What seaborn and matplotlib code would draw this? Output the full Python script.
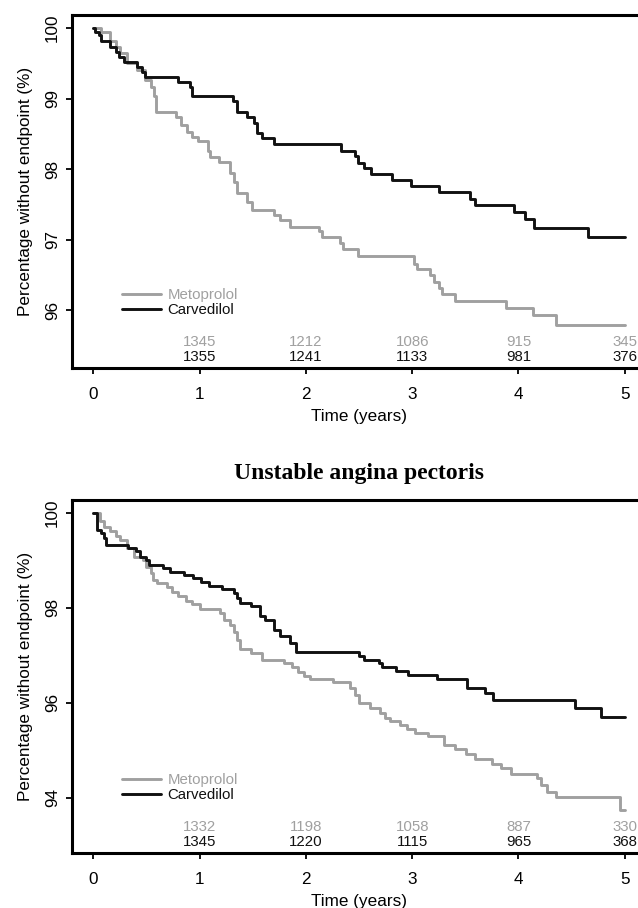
import matplotlib
matplotlib.use("Agg")
import matplotlib.pyplot as plt
import matplotlib.transforms as mtransforms
import seaborn as sns

GRAY = "#a0a0a0"
BLACK = "#111111"

# upper panel (its title is cropped off in the source)
top_meto_t = [0, 0.07, 0.16, 0.21, 0.25, 0.32, 0.41, 0.49, 0.54, 0.57, 0.59, 0.78, 0.83, 0.88, 0.93,
              0.99, 1.08, 1.10, 1.18, 1.29, 1.32, 1.35, 1.45, 1.49, 1.70, 1.76, 1.85, 2.12, 2.15, 2.32,
              2.35, 2.49, 3.02, 3.05, 3.17, 3.21, 3.25, 3.28, 3.40, 3.88, 4.14, 4.35, 5.0]
top_meto_s = [100, 99.95, 99.81, 99.73, 99.64, 99.50, 99.40, 99.26, 99.17, 99.03, 98.81, 98.74, 98.62,
              98.53, 98.46, 98.40, 98.25, 98.17, 98.10, 97.95, 97.82, 97.66, 97.54, 97.42, 97.35, 97.28,
              97.18, 97.12, 97.03, 96.95, 96.86, 96.77, 96.66, 96.59, 96.50, 96.40, 96.32, 96.23, 96.13,
              96.03, 95.93, 95.79, 95.79]
top_carv_t = [0, 0.02, 0.05, 0.07, 0.16, 0.21, 0.24, 0.29, 0.41, 0.46, 0.49, 0.80, 0.91, 0.93, 1.31,
              1.35, 1.45, 1.51, 1.54, 1.59, 1.70, 2.33, 2.46, 2.49, 2.55, 2.61, 2.81, 2.99, 3.25, 3.54,
              3.59, 3.96, 4.06, 4.15, 4.65, 5.0]
top_carv_s = [100, 99.95, 99.90, 99.81, 99.73, 99.66, 99.59, 99.52, 99.45, 99.38, 99.31, 99.24, 99.16,
              99.03, 98.96, 98.81, 98.74, 98.65, 98.51, 98.44, 98.35, 98.26, 98.18, 98.09, 98.01, 97.93,
              97.84, 97.76, 97.67, 97.58, 97.49, 97.39, 97.29, 97.17, 97.03, 97.03]
top_meto_risk = [1345, 1212, 1086, 915, 345]
top_carv_risk = [1355, 1241, 1133, 981, 376]
top_yticks = [96, 97, 98, 99, 100]

# lower panel: unstable angina pectoris
bot_meto_t = [0, 0.06, 0.10, 0.16, 0.21, 0.25, 0.32, 0.38, 0.47, 0.50, 0.54, 0.56, 0.60, 0.69, 0.74,
              0.80, 0.87, 0.93, 1.00, 1.19, 1.23, 1.29, 1.32, 1.35, 1.38, 1.48, 1.59, 1.79, 1.87, 1.93,
              1.98, 2.04, 2.26, 2.42, 2.46, 2.50, 2.60, 2.70, 2.74, 2.79, 2.89, 2.95, 3.03, 3.15, 3.30,
              3.40, 3.51, 3.59, 3.75, 3.84, 3.93, 4.17, 4.21, 4.27, 4.35, 4.96, 5.0]
bot_meto_s = [100, 99.82, 99.71, 99.61, 99.52, 99.43, 99.26, 99.08, 99.01, 98.87, 98.73, 98.59, 98.53,
              98.44, 98.34, 98.24, 98.15, 98.08, 97.98, 97.89, 97.75, 97.64, 97.50, 97.33, 97.13, 97.06,
              96.91, 96.84, 96.75, 96.66, 96.57, 96.50, 96.43, 96.31, 96.17, 95.99, 95.89, 95.78, 95.68,
              95.61, 95.54, 95.46, 95.37, 95.30, 95.11, 95.02, 94.92, 94.82, 94.72, 94.62, 94.51, 94.41,
              94.27, 94.13, 94.01, 93.75, 93.75]
bot_carv_t = [0, 0.035, 0.07, 0.10, 0.12, 0.33, 0.40, 0.44, 0.50, 0.52, 0.66, 0.72, 0.85, 0.94, 1.01,
              1.09, 1.21, 1.32, 1.35, 1.38, 1.48, 1.57, 1.62, 1.70, 1.76, 1.85, 1.91, 2.50, 2.55, 2.69,
              2.72, 2.85, 2.96, 3.23, 3.52, 3.69, 3.76, 4.53, 4.78, 5.0]
bot_carv_s = [100, 99.64, 99.57, 99.47, 99.33, 99.26, 99.19, 99.08, 99.01, 98.91, 98.84, 98.76, 98.69,
              98.63, 98.55, 98.46, 98.39, 98.31, 98.20, 98.10, 98.03, 97.82, 97.75, 97.54, 97.40, 97.26,
              97.08, 96.99, 96.91, 96.84, 96.75, 96.68, 96.59, 96.50, 96.31, 96.20, 96.05, 95.89, 95.70,
              95.70]
bot_meto_risk = [1332, 1198, 1058, 887, 330]
bot_carv_risk = [1345, 1220, 1115, 965, 368]
bot_yticks = [94, 96, 98, 100]

risk_times = [1, 2, 3, 4, 5]
x_ticks = [0, 1, 2, 3, 4, 5]

sns.set_style("ticks", {"text.color": "black", "axes.labelcolor": "black",
                        "xtick.color": "black", "ytick.color": "black", "axes.edgecolor": "black"})
plt.rcParams["font.family"] = ["Liberation Sans", "DejaVu Sans"]


def draw_panel(ax, meto_t, meto_s, carv_t, carv_s, meto_risk, carv_risk, yticks, ylim):
    sns.lineplot(x=meto_t, y=meto_s, ax=ax, color=GRAY, lw=2.1, drawstyle="steps-post",
                 label="Metoprolol", sort=False)
    sns.lineplot(x=carv_t, y=carv_s, ax=ax, color=BLACK, lw=2.1, drawstyle="steps-post",
                 label="Carvedilol", sort=False)
    ax.set_xlim(-0.2, 5.2)
    ax.set_ylim(*ylim)
    ax.set_xticks(x_ticks)
    ax.set_yticks(yticks)
    ax.set_yticklabels([str(v) for v in yticks], rotation=90, va="center")
    ax.tick_params(axis="both", labelsize=12.3, length=4.5, width=1.3, color="black",
                   labelcolor="black", direction="out")
    ax.tick_params(axis="x", pad=9)
    ax.tick_params(axis="y", pad=4)
    for sp in ax.spines.values():
        sp.set_linewidth(2.2)
        sp.set_color("black")
        sp.set_visible(True)
    ax.set_xlabel("Time (years)", fontsize=12.3, labelpad=5, color="black")
    ax.set_ylabel("Percentage without endpoint (%)", fontsize=12.3, labelpad=9, color="black")

    trans = mtransforms.blended_transform_factory(ax.transData, ax.transAxes)
    for t, n in zip(risk_times, meto_risk):
        ax.text(t, 0.074, str(n), transform=trans, ha="center", va="center", fontsize=10.8, color=GRAY)
    for t, n in zip(risk_times, carv_risk):
        ax.text(t, 0.030, str(n), transform=trans, ha="center", va="center", fontsize=10.8, color=BLACK)

    ax.legend(loc="lower left", bbox_to_anchor=(0.087, 0.145), frameon=False, borderpad=0,
              borderaxespad=0, handlelength=2.6, handletextpad=0.45, labelspacing=0.05,
              fontsize=10.8, labelcolor="linecolor")


fig = plt.figure(figsize=(6.38, 9.08), dpi=100)
ax_top = fig.add_axes([72 / 638, 1 - 368 / 908, 574 / 638, 353 / 908])
ax_bot = fig.add_axes([72 / 638, 1 - 853 / 908, 574 / 638, 353 / 908])

draw_panel(ax_top, top_meto_t, top_meto_s, top_carv_t, top_carv_s,
           top_meto_risk, top_carv_risk, top_yticks, (95.18, 100.184))
draw_panel(ax_bot, bot_meto_t, bot_meto_s, bot_carv_t, bot_carv_s,
           bot_meto_risk, bot_carv_risk, bot_yticks, (92.84, 100.27))

fig.text(359 / 638, 1 - 474 / 908, "Unstable angina pectoris", ha="center", va="center",
         fontsize=17, fontweight="bold", color="black", family=["Liberation Serif", "DejaVu Serif"])

fig.savefig("out.png", dpi=100)
